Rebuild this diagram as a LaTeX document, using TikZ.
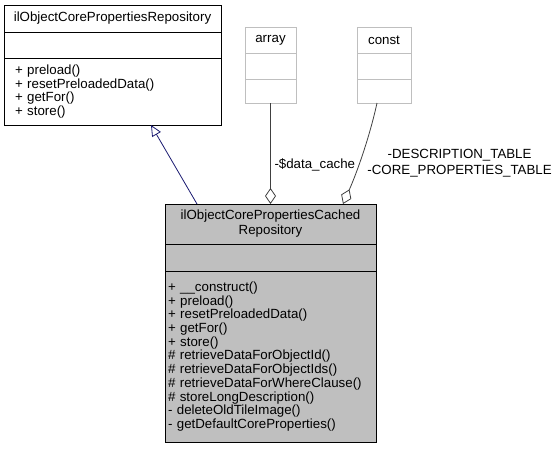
\documentclass[tikz,border=0pt]{standalone}
\usepackage{fontspec}
\setmainfont{Liberation Sans}
\usetikzlibrary{arrows.meta,positioning}
\definecolor{edgegray}{HTML}{404040}
\definecolor{boxgray}{HTML}{BFBFBF}
\definecolor{inheritblue}{HTML}{191970}
\begin{document}
\begin{tikzpicture}[x = 1pt, y = -1pt,
		every node/.style = {font = \fontsize{13.3}{13.7}\selectfont, inner sep = 0pt, outer sep = 0pt},
		part/.style = {draw, line width = .9pt, fill = white, minimum width = #1},
		ghost/.style = {part = #1, draw = boxgray},
		inherit/.style = {draw = inheritblue, line width = .8pt, -{Triangle[open, length = 11pt, width = 10pt]}},
		aggregate/.style = {draw = edgegray, line width = .8pt, {Diamond[open, length = 16pt, width = 11pt]}-},
		edgelabel/.style = {font = \fontsize{13.3}{15.7}\selectfont, align = center}]
	\useasboundingbox (0,0) rectangle (556,448);
	% base class
	\node[part = 217pt, minimum height = 27pt, anchor = north west] (repo) at (4,5) {ilObjectCorePropertiesRepository};
	\node[part = 217pt, minimum height = 26pt, below = 0pt of repo] (repoattr) {};
	\node[part = 217pt, minimum height = 67pt, below = 0pt of repoattr, text width = 195pt, inner xsep = 11pt, align = left] (repoops)
		{+ preload()\\+ resetPreloadedData()\\+ getFor()\\+ store()};
	% member types
	\node[ghost = 51pt, minimum height = 26pt, anchor = north west] (array) at (245,27) {array};
	\node[ghost = 51pt, minimum height = 26pt, below = 0pt of array] (arrayattr) {};
	\node[ghost = 51pt, minimum height = 24pt, below = 0pt of arrayattr] (arrayops) {};
	\node[ghost = 54pt, minimum height = 26pt, anchor = north west] (const) at (357,27) {const};
	\node[ghost = 54pt, minimum height = 26pt, below = 0pt of const] (constattr) {};
	\node[ghost = 54pt, minimum height = 24pt, below = 0pt of constattr] (constops) {};
	% cached repository
	\node[part = 211pt, minimum height = 40pt, fill = boxgray, anchor = north west, align = center,
		font = \fontsize{13.3}{15}\selectfont] (cached) at (165,204) {ilObjectCorePropertiesCached\\Repository};
	\node[part = 211pt, minimum height = 27pt, fill = boxgray, below = 0pt of cached] (cachedattr) {};
	\node[part = 211pt, minimum height = 171pt, fill = boxgray, below = 0pt of cachedattr, text width = 205pt, inner xsep = 3pt, align = left] (cachedops)
		{+ \_\_construct()\\+ preload()\\+ resetPreloadedData()\\+ getFor()\\+ store()\\\# retrieveDataForObjectId()\\\# retrieveDataForObjectIds()\\\# retrieveDataForWhereClause()\\\# storeLongDescription()\\- deleteOldTileImage()\\- getDefaultCoreProperties()};
	% relations
	\draw[inherit] ([xshift = 32pt]cached.north west) -- ([xshift = 147pt]repoops.south west);
	\draw[aggregate] (arrayops.south |- cached.north) -- node[edgelabel, pos = .39, right = 4pt] {-\$data\_cache} (arrayops.south);
	\draw[aggregate] ([xshift = 178pt]cached.north west) .. controls +(15,-34) and +(-7,32) ..
		node[edgelabel, pos = .4, anchor = west, xshift = 8pt] {-DESCRIPTION\_TABLE\\-CORE\_PROPERTIES\_TABLE} ([xshift = -7pt]constops.south);
\end{tikzpicture}
\end{document}
